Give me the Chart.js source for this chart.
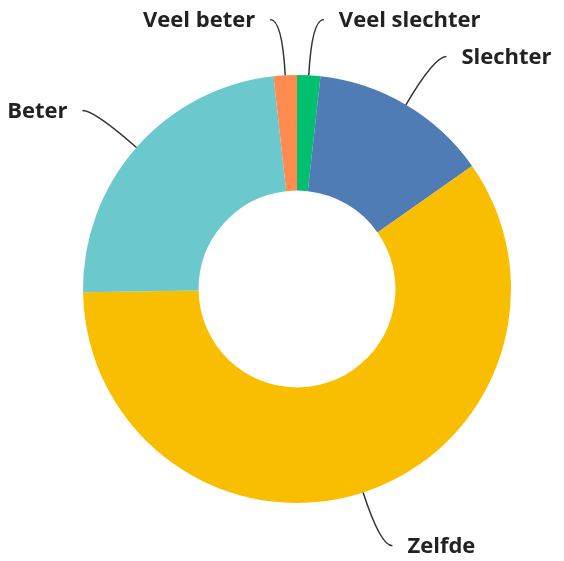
<!DOCTYPE html>
<html>
<head>
<meta charset="utf-8">
<script src="https://cdn.jsdelivr.net/npm/chart.js@4"></script>
<style>
    body { margin: 0; background: #fff; }
    #wrap { width: 564px; height: 561px; }
</style>
</head>
<body>
<div id="wrap"><canvas id="donutChart" width="564" height="561"></canvas></div>
<script>
// Answers, clockwise from the top
const answerLabels = ['Veel slechter', 'Slechter', 'Zelfde', 'Beter', 'Veel beter'];
const answerShares = [1.75, 13.5, 59.5, 23.5, 1.75];
const sliceColors = ['#00BF6F', '#507CB6', '#F9BE00', '#6BC8CD', '#FF8B4F'];

// Draws the labels with curved leader lines
const leaderLabels = {
    id: 'leaderLabels',
    afterDraw(chart) {
        const ctx = chart.ctx;
        const meta = chart.getDatasetMeta(0);
        ctx.save();
        ctx.font = 'bold 22px "Open Sans", sans-serif';
        ctx.fillStyle = '#222';
        ctx.strokeStyle = '#333';
        ctx.lineWidth = 1.5;
        ctx.textBaseline = 'middle';

        meta.data.forEach((arc, i) => {
            const { x, y, startAngle, endAngle, outerRadius } = arc.getProps(['x', 'y', 'startAngle', 'endAngle', 'outerRadius'], true);
            const mid = (startAngle + endAngle) / 2;
            const cos = Math.cos(mid);
            const sin = Math.sin(mid);
            const side = cos >= 0 ? 1 : -1;

            const x0 = x + cos * outerRadius;
            const y0 = y + sin * outerRadius;
            const ex = x + cos * (outerRadius + 56);
            const ey = y + sin * (outerRadius + 56);
            const x1 = ex + side * 12;

            ctx.beginPath();
            ctx.moveTo(x0, y0);
            ctx.quadraticCurveTo(ex, ey, x1, ey);
            ctx.stroke();

            ctx.textAlign = side > 0 ? 'left' : 'right';
            ctx.fillText(answerLabels[i], x1 + side * 15, ey + 1);
        });
        ctx.restore();
    }
};

new Chart(document.getElementById('donutChart').getContext('2d'), {
    type: 'doughnut',
    data: {
        labels: answerLabels,
        datasets: [{
            data: answerShares,
            backgroundColor: sliceColors,
            borderWidth: 0
        }]
    },
    options: {
        responsive: false,
        animation: false,
        cutout: '46%',
        layout: {
            padding: { left: 83, right: 53, top: 75, bottom: 58 }
        },
        plugins: {
            legend: { display: false },
            tooltip: { enabled: false }
        }
    },
    plugins: [leaderLabels]
});
</script>
</body>
</html>
